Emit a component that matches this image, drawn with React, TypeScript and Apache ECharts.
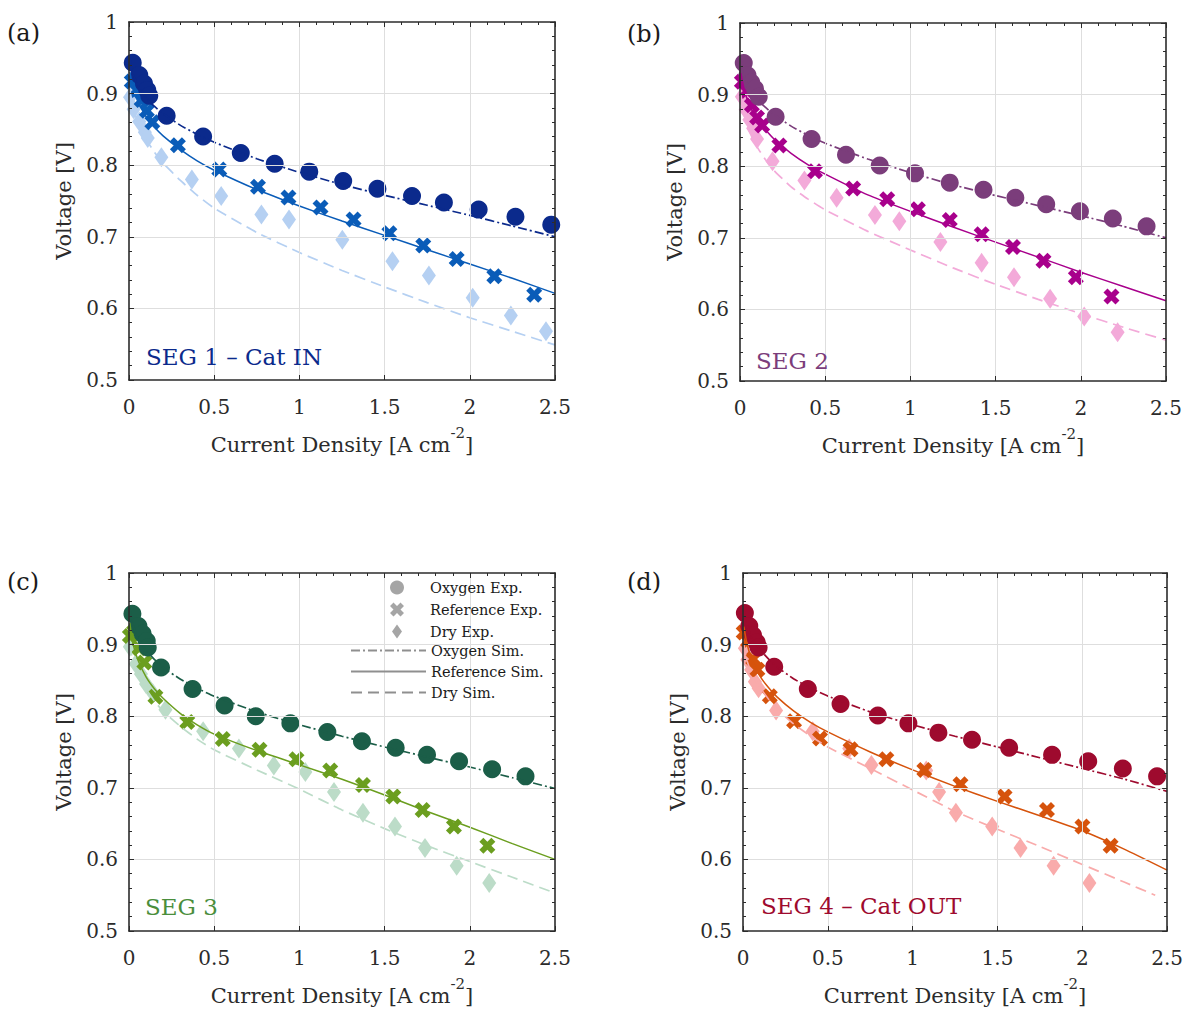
import React, { useEffect, useRef } from "react";
import * as echarts from "echarts";

// ---------------- data ----------------
const SIM_X = [0.005, 0.02, 0.05, 0.1, 0.15, 0.2, 0.3, 0.4, 0.5, 0.75, 1.0, 1.25, 1.5, 1.75, 2.0, 2.25, 2.5];
const SIM_X_D_DRY = [0.005, 0.02, 0.05, 0.1, 0.15, 0.2, 0.3, 0.4, 0.5, 0.75, 1.0, 1.25, 1.5, 1.75, 2.0, 2.25, 2.43];

const X_TICKS = ["0", "0.5", "1", "1.5", "2", "2.5"];
const Y_TICKS = ["0.5", "0.6", "0.7", "0.8", "0.9", "1"];

// Panel (a) SEG 1 - Cat IN
const aOxyExp = [[0.022,0.943],[0.06,0.926],[0.088,0.914],[0.107,0.905],[0.119,0.897],[0.221,0.869],[0.435,0.840],[0.656,0.817],[0.855,0.802],[1.058,0.791],[1.257,0.778],[1.458,0.767],[1.661,0.757],[1.848,0.748],[2.052,0.738],[2.268,0.728],[2.478,0.717]];
const aRefExp = [[0.016,0.917],[0.045,0.905],[0.074,0.891],[0.105,0.876],[0.137,0.860],[0.287,0.828],[0.53,0.794],[0.757,0.770],[0.936,0.755],[1.124,0.741],[1.318,0.724],[1.528,0.705],[1.727,0.688],[1.923,0.669],[2.144,0.645],[2.378,0.619]];
const aDryExp = [[0.006,0.895],[0.027,0.878],[0.06,0.861],[0.093,0.846],[0.11,0.838],[0.19,0.811],[0.369,0.780],[0.541,0.757],[0.777,0.731],[0.939,0.724],[1.252,0.696],[1.546,0.666],[1.760,0.646],[2.017,0.615],[2.241,0.590],[2.447,0.568]];
const aOxySim = [0.950,0.930,0.912,0.894,0.882,0.872,0.856,0.843,0.832,0.809,0.790,0.773,0.758,0.744,0.730,0.715,0.700];
const aRefSim = [0.930,0.912,0.890,0.868,0.853,0.841,0.822,0.806,0.793,0.766,0.743,0.722,0.702,0.682,0.662,0.642,0.621];
const aDrySim = [0.905,0.885,0.860,0.836,0.818,0.803,0.779,0.758,0.740,0.706,0.678,0.653,0.630,0.608,0.587,0.568,0.549];

// Panel (b) SEG 2
const bOxyExp = [[0.022,0.944],[0.044,0.927],[0.066,0.917],[0.088,0.908],[0.11,0.897],[0.209,0.869],[0.42,0.838],[0.622,0.816],[0.82,0.801],[1.027,0.790],[1.231,0.777],[1.429,0.767],[1.616,0.756],[1.797,0.747],[1.995,0.737],[2.188,0.727],[2.386,0.716]];
const bRefExp = [[0.011,0.918],[0.04,0.905],[0.07,0.885],[0.1,0.868],[0.13,0.857],[0.231,0.829],[0.44,0.793],[0.664,0.769],[0.864,0.754],[1.044,0.740],[1.231,0.725],[1.418,0.705],[1.602,0.687],[1.781,0.668],[1.971,0.645],[2.18,0.618]];
const bDryExp = [[0.011,0.897],[0.033,0.879],[0.055,0.865],[0.077,0.853],[0.1,0.838],[0.191,0.807],[0.378,0.780],[0.567,0.756],[0.792,0.732],[0.935,0.723],[1.176,0.694],[1.418,0.665],[1.608,0.645],[1.82,0.615],[2.02,0.590],[2.216,0.568]];
const bOxySim = [0.950,0.930,0.912,0.894,0.882,0.872,0.856,0.843,0.832,0.810,0.791,0.774,0.759,0.745,0.731,0.716,0.700];
const bRefSim = [0.930,0.912,0.888,0.866,0.851,0.838,0.818,0.802,0.789,0.760,0.737,0.715,0.694,0.673,0.652,0.632,0.612];
const bDrySim = [0.900,0.876,0.851,0.827,0.809,0.794,0.771,0.754,0.739,0.709,0.683,0.658,0.635,0.614,0.594,0.575,0.557];

// Panel (c) SEG 3
const cOxyExp = [[0.02,0.943],[0.055,0.926],[0.08,0.915],[0.104,0.905],[0.11,0.896],[0.188,0.868],[0.373,0.838],[0.561,0.815],[0.744,0.800],[0.947,0.790],[1.164,0.778],[1.367,0.765],[1.565,0.756],[1.749,0.746],[1.937,0.737],[2.131,0.726],[2.327,0.716]];
const cRefExp = [[0.005,0.912],[0.03,0.918],[0.06,0.895],[0.09,0.875],[0.155,0.827],[0.342,0.792],[0.55,0.768],[0.766,0.753],[0.983,0.740],[1.181,0.724],[1.373,0.704],[1.551,0.688],[1.723,0.669],[1.907,0.646],[2.103,0.619]];
const cDryExp = [[0.005,0.897],[0.04,0.873],[0.07,0.859],[0.1,0.845],[0.14,0.832],[0.214,0.809],[0.435,0.779],[0.645,0.755],[0.85,0.731],[1.035,0.722],[1.203,0.694],[1.373,0.665],[1.561,0.646],[1.737,0.616],[1.923,0.591],[2.114,0.567]];
const cOxySim = [0.950,0.930,0.910,0.892,0.879,0.868,0.852,0.839,0.828,0.806,0.788,0.772,0.757,0.743,0.729,0.714,0.699];
const cRefSim = [0.930,0.905,0.880,0.855,0.838,0.825,0.804,0.788,0.775,0.752,0.732,0.712,0.690,0.667,0.645,0.622,0.600];
const cDrySim = [0.900,0.880,0.860,0.838,0.821,0.807,0.786,0.768,0.753,0.725,0.698,0.669,0.643,0.619,0.597,0.575,0.553];

// Panel (d) SEG 4 - Cat OUT
const dOxyExp = [[0.011,0.944],[0.037,0.926],[0.059,0.913],[0.081,0.903],[0.092,0.896],[0.184,0.869],[0.382,0.838],[0.575,0.817],[0.795,0.801],[0.975,0.790],[1.152,0.777],[1.35,0.767],[1.569,0.756],[1.822,0.746],[2.035,0.737],[2.239,0.727],[2.441,0.716]];
const dRefExp = [[0.004,0.917],[0.03,0.905],[0.06,0.88],[0.085,0.865],[0.158,0.828],[0.301,0.793],[0.454,0.769],[0.634,0.754],[0.845,0.740],[1.069,0.725],[1.282,0.705],[1.542,0.688],[1.792,0.669],[2.001,0.646],[2.167,0.619]];
const dDryExp = [[0.011,0.895],[0.026,0.879],[0.048,0.865],[0.07,0.848],[0.092,0.839],[0.195,0.808],[0.411,0.779],[0.626,0.755],[0.757,0.732],[1.08,0.724],[1.156,0.694],[1.255,0.665],[1.469,0.646],[1.636,0.616],[1.831,0.591],[2.042,0.567]];
const dOxySim = [0.950,0.930,0.910,0.893,0.880,0.869,0.852,0.839,0.828,0.806,0.788,0.772,0.757,0.742,0.727,0.712,0.695];
const dRefSim = [0.925,0.905,0.880,0.856,0.840,0.827,0.807,0.791,0.778,0.750,0.725,0.702,0.681,0.661,0.640,0.614,0.585];
const dDrySim = [0.900,0.880,0.860,0.840,0.824,0.810,0.789,0.772,0.757,0.727,0.697,0.667,0.642,0.618,0.593,0.568,0.550];

const PANEL_LETTERS = ["(a)", "(b)", "(c)", "(d)"];
const SEG_LABELS = ["SEG 1 \u2013 Cat IN", "SEG 2", "SEG 3", "SEG 4 \u2013 Cat OUT"];
const LEGEND_EXP = ["Oxygen Exp.", "Reference Exp.", "Dry Exp."];
const LEGEND_SIM = ["Oxygen Sim.", "Reference Sim.", "Dry Sim."];

// ---------------- styles ----------------
const FONT = "DejaVu Serif";
const FRAME = "#2b2b2b";
const GRIDC = "#dedede";
const LEG_GRAY = "#8f8f8f";

const SYM_X = "path://M0,3L3,0L6,3L9,0L12,3L9,6L12,9L9,12L6,9L3,12L0,9L3,6Z";
const SYM_DIAMOND = "path://M5,0L10,7L5,14L0,7Z";
const DASHDOT = [9, 3, 2, 3];
const DASHED = [11, 6];

const panels = [
  { oxyExp: aOxyExp, refExp: aRefExp, dryExp: aDryExp, oxySim: aOxySim, refSim: aRefSim, drySim: aDrySim, dryX: SIM_X,
    colors: ["#0b2a8c", "#0a5cb8", "#b5d0f2"], labelColor: "#0b2a8c",
    grid: { left: 129, top: 22, width: 426, height: 358 }, letter: [7, 33], seg: [146, 357] },
  { oxyExp: bOxyExp, refExp: bRefExp, dryExp: bDryExp, oxySim: bOxySim, refSim: bRefSim, drySim: bDrySim, dryX: SIM_X,
    colors: ["#7b3d7b", "#a8008c", "#f3aad9"], labelColor: "#7b3d7b",
    grid: { left: 740, top: 23, width: 426, height: 358 }, letter: [627, 34], seg: [756, 361] },
  { oxyExp: cOxyExp, refExp: cRefExp, dryExp: cDryExp, oxySim: cOxySim, refSim: cRefSim, drySim: cDrySim, dryX: SIM_X,
    colors: ["#1b5e48", "#6b9e1f", "#bcdcc8"], labelColor: "#4a8e3c",
    grid: { left: 129, top: 573, width: 426, height: 358 }, letter: [7, 582], seg: [145, 907] },
  { oxyExp: dOxyExp, refExp: dRefExp, dryExp: dDryExp, oxySim: dOxySim, refSim: dRefSim, drySim: dDrySim, dryX: SIM_X_D_DRY,
    colors: ["#9e0a2e", "#d6530c", "#f9abab"], labelColor: "#9e0a2e",
    grid: { left: 743, top: 573, width: 426, height: 358 }, letter: [627, 582], seg: [761, 906] },
];

function buildOption() {
  const grids: any[] = [];
  const xAxes: any[] = [];
  const yAxes: any[] = [];
  const series: any[] = [];
  const graphics: any[] = [];

  panels.forEach((p, i) => {
    grids.push({ ...p.grid, containLabel: false, show: false });
    const ls = (w: number) => ({ lineStyle: { color: FRAME, width: w } });
    xAxes.push({
      type: "value", gridIndex: i, position: "bottom", min: 0, max: 2.5, interval: 0.5, z: 4,
      axisLine: { show: true, onZero: false, ...ls(1.6) },
      axisTick: { show: true, inside: true, length: 5, ...ls(1) },
      minorTick: { show: false },
      axisLabel: {
        show: true, margin: 17, fontFamily: FONT, fontSize: 20, color: FRAME,
        formatter: (v: number) => X_TICKS[Math.round(v / 0.5)] ?? String(v),
      },
      splitLine: { show: true, showMinLine: false, showMaxLine: false, lineStyle: { color: GRIDC, width: 1 } },
      name: "{n|Current Density [A cm}{s|-2}{n|]}",
      nameLocation: "middle",
      nameGap: 45,
      nameTextStyle: {
        fontFamily: FONT, fontSize: 21, color: FRAME,
        rich: {
          n: { fontFamily: FONT, fontSize: 21, color: FRAME, lineHeight: 40 },
          s: { fontFamily: FONT, fontSize: 15, color: FRAME, lineHeight: 15, verticalAlign: "top" },
        },
      },
    });
    xAxes.push({
      type: "value", gridIndex: i, position: "top", min: 0, max: 2.5, interval: 0.5, z: 4,
      axisLine: { show: true, onZero: false, ...ls(1.6) },
      axisTick: { show: true, inside: true, length: 5, ...ls(1) },
      minorTick: { show: true, splitNumber: 5, length: 3, ...ls(1) },
      axisLabel: { show: false },
      splitLine: { show: false },
    });
    yAxes.push({
      type: "value", gridIndex: i, position: "left", min: 0.5, max: 1, interval: 0.1, z: 4,
      axisLine: { show: true, onZero: false, ...ls(1.6) },
      axisTick: { show: true, inside: true, length: 5, ...ls(1) },
      minorTick: { show: true, splitNumber: 5, length: 3, ...ls(1) },
      axisLabel: {
        show: true, margin: 11, fontFamily: FONT, fontSize: 20, color: FRAME,
        formatter: (v: number) => Y_TICKS[Math.round((v - 0.5) / 0.1)] ?? String(v),
      },
      splitLine: { show: true, showMinLine: false, showMaxLine: false, lineStyle: { color: GRIDC, width: 1 } },
      name: "Voltage [V]",
      nameLocation: "middle",
      nameGap: 55,
      nameTextStyle: { fontFamily: FONT, fontSize: 21, color: FRAME },
    });
    yAxes.push({
      type: "value", gridIndex: i, position: "right", min: 0.5, max: 1, interval: 0.1, z: 4,
      axisLine: { show: true, onZero: false, ...ls(1.6) },
      axisTick: { show: true, inside: true, length: 5, ...ls(1) },
      minorTick: { show: true, splitNumber: 5, length: 3, ...ls(1) },
      axisLabel: { show: false },
      splitLine: { show: false },
    });

    const xi = 2 * i;
    const yi = 2 * i;
    const [cOxy, cRef, cDry] = p.colors;
    const scatter = (data: number[][], symbol: string, size: any, color: string) => ({
      type: "scatter", xAxisIndex: xi, yAxisIndex: yi, data, symbol, symbolSize: size,
      symbolKeepAspect: false, itemStyle: { color, opacity: 1 }, silent: true, z: 2,
    });
    series.push(scatter(p.dryExp, SYM_DIAMOND, [14, 20], cDry));
    series.push(scatter(p.refExp, SYM_X, 16, cRef));
    series.push(scatter(p.oxyExp, "circle", 18, cOxy));

    const line = (xs: number[], ys: number[], color: string, type: any, width: number) => ({
      type: "line", xAxisIndex: xi, yAxisIndex: yi,
      data: xs.map((x, k) => [x, ys[k]]),
      symbol: "none", showSymbol: false, smooth: 0.15,
      lineStyle: { color, type, width }, silent: true, z: 3,
    });
    series.push(line(p.dryX, p.drySim, cDry, DASHED, 1.7));
    series.push(line(SIM_X, p.refSim, cRef, "solid", 1.5));
    series.push(line(SIM_X, p.oxySim, cOxy, DASHDOT, 1.7));

    graphics.push({
      type: "text", x: p.letter[0], y: p.letter[1], z: 10, silent: true,
      style: { text: PANEL_LETTERS[i], fontFamily: FONT, fontSize: 24, fill: "#1a1a1a",
        verticalAlign: "middle", textVerticalAlign: "middle" },
    });
    graphics.push({
      type: "text", x: p.seg[0], y: p.seg[1], z: 10, silent: true,
      style: { text: SEG_LABELS[i], fontFamily: FONT, fontSize: 23, fill: p.labelColor,
        verticalAlign: "middle", textVerticalAlign: "middle" },
    });
  });

  // legend entries (grey dummies on panel c)
  const legSymbols = ["circle", SYM_X, SYM_DIAMOND];
  LEGEND_EXP.forEach((name, k) => {
    series.push({ type: "scatter", name, xAxisIndex: 4, yAxisIndex: 4, data: [], symbol: legSymbols[k],
      itemStyle: { color: LEG_GRAY } });
  });
  const legTypes: any[] = [DASHDOT, "solid", DASHED];
  LEGEND_SIM.forEach((name, k) => {
    series.push({ type: "line", name, xAxisIndex: 4, yAxisIndex: 4, data: [], symbol: "none",
      itemStyle: { color: LEG_GRAY }, lineStyle: { color: LEG_GRAY, type: legTypes[k], width: 1.5 } });
  });

  // white legend box
  graphics.push({
    type: "rect", z: 1, silent: true,
    shape: { x: 352, y: 574, width: 202, height: 126 },
    style: { fill: "#ffffff" },
  });

  const legText = { fontFamily: FONT, fontSize: 14.5, color: "#1a1a1a" };
  return {
    animation: false,
    backgroundColor: "#ffffff",
    textStyle: { fontFamily: FONT },
    grid: grids,
    xAxis: xAxes,
    yAxis: yAxes,
    series,
    graphic: graphics,
    legend: [
      { orient: "vertical", left: 390, top: 580, padding: 0, itemWidth: 56, itemHeight: 14, itemGap: 7,
        data: LEGEND_EXP, textStyle: legText, selectedMode: false, z: 5 },
      { orient: "vertical", left: 350, top: 643, padding: 0, itemWidth: 75, itemHeight: 14, itemGap: 6,
        data: LEGEND_SIM, textStyle: legText, selectedMode: false, z: 5, itemStyle: { opacity: 0 } },
    ],
  };
}

export default function App() {
  const ref = useRef<HTMLDivElement>(null);
  useEffect(() => {
    const chart = echarts.init(ref.current!, null, { renderer: "svg" });
    chart.setOption(buildOption() as any);
    return () => chart.dispose();
  }, []);
  return (
    <div
      ref={ref}
      style={{ position: "fixed", left: 0, top: 0, width: 1186, height: 1009, background: "#fff" }}
    />
  );
}
